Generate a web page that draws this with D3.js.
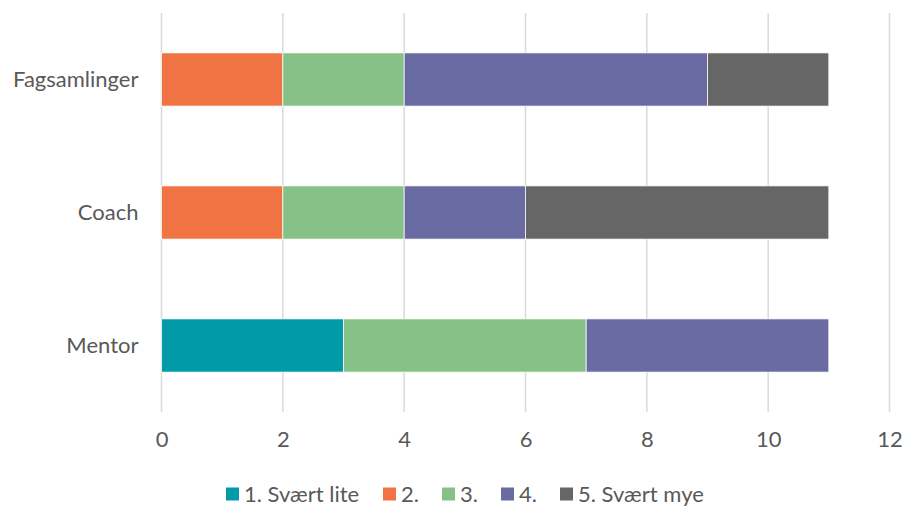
<!DOCTYPE html>
<html>
<head>
<meta charset="utf-8">
<script src="https://cdn.jsdelivr.net/npm/d3@7"></script>
<style>
  body { margin: 0; background: #fff; }
  text { font-family: Lato, "Open Sans", sans-serif; fill: #595959; }
</style>
</head>
<body>
<div id="chart"></div>
<script>
const categories = ["Fagsamlinger", "Coach", "Mentor"];
const seriesNames = ["1. Svært lite", "2.", "3.", "4.", "5. Svært mye"];
const colors = ["#009aa9", "#f07443", "#86c288", "#6b6ba4", "#666666"];
// values per series, in category order
const s1 = [0, 0, 3];
const s2 = [2, 2, 0];
const s3 = [2, 2, 4];
const s4 = [5, 2, 4];
const s5 = [2, 5, 0];
const xTicks = [0, 2, 4, 6, 8, 10, 12];

const width = 904, height = 506;
const margin = { top: 13, right: 14, bottom: 94, left: 161.5 };
const fontSize = "22px";

const rows = categories.map((c, i) => {
  const r = { cat: c };
  [s1, s2, s3, s4, s5].forEach((s, k) => r[seriesNames[k]] = s[i]);
  return r;
});
const stacked = d3.stack().keys(seriesNames)(rows);

const svg = d3.select("#chart").append("svg")
  .attr("width", width)
  .attr("height", height);

const x = d3.scaleLinear().domain([0, 12]).range([margin.left, 889.5]);
const y = d3.scaleBand().domain(categories)
  .range([margin.top, height - margin.bottom])
  .paddingInner(0.6).paddingOuter(0.3);

// grid
svg.append("g")
  .selectAll("line")
  .data(xTicks)
  .join("line")
  .attr("x1", d => x(d)).attr("x2", d => x(d))
  .attr("y1", margin.top).attr("y2", height - margin.bottom)
  .attr("stroke", "#d9d9d9")
  .attr("stroke-width", 1.5);

// bars
svg.append("g")
  .selectAll("g")
  .data(stacked)
  .join("g")
  .attr("fill", (d, i) => colors[i])
  .selectAll("rect")
  .data(d => d.filter(p => p[1] - p[0] > 0))
  .join("rect")
  .attr("x", d => x(d[0]))
  .attr("width", d => x(d[1]) - x(d[0]))
  .attr("y", d => y(d.data.cat))
  .attr("height", y.bandwidth())
  .attr("stroke", "#fff")
  .attr("stroke-width", 0.75);

// x axis labels
const xAxis = svg.append("g")
  .attr("transform", `translate(0,${height - margin.bottom})`)
  .call(d3.axisBottom(x).tickValues(xTicks).tickSize(0).tickPadding(19));
xAxis.select(".domain").remove();
xAxis.selectAll("text").style("font-size", fontSize).attr("fill", "#595959")
  .style("font-family", "Lato, 'Open Sans', sans-serif");

// y axis labels
const yAxis = svg.append("g")
  .attr("transform", `translate(${margin.left},0)`)
  .call(d3.axisLeft(y).tickSize(0).tickPadding(23));
yAxis.select(".domain").remove();
yAxis.selectAll("text").style("font-size", fontSize).attr("fill", "#595959")
  .style("font-family", "Lato, 'Open Sans', sans-serif");

// legend
const legendX = [226, 383, 442, 501, 560];
const legend = svg.append("g")
  .selectAll("g")
  .data(seriesNames)
  .join("g")
  .attr("transform", (d, i) => `translate(${legendX[i]},494)`);
legend.append("rect")
  .attr("y", -6.5).attr("width", 13).attr("height", 13)
  .attr("fill", (d, i) => colors[i]);
legend.append("text")
  .attr("x", 18).attr("dy", "0.35em")
  .style("font-size", fontSize)
  .text(d => d);
</script>
</body>
</html>
